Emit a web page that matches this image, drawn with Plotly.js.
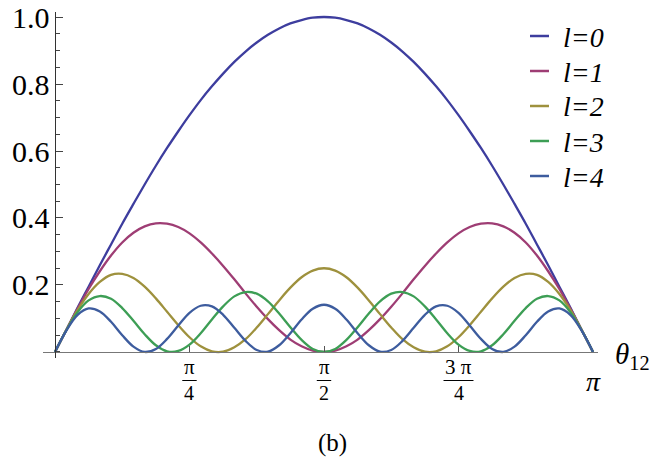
<!DOCTYPE html>
<html>
<head>
<meta charset="utf-8">
<script src="https://cdn.plot.ly/plotly-3.0.1.min.js"></script>
<style>html,body{margin:0;padding:0;background:#fff;}#chart{width:656px;height:461px;}</style>
</head>
<body>
<div id="chart"></div>
<script>
// angle theta_12 in degrees
const thetaDeg = [0, 3.75, 7.5, 11.25, 15, 18.75, 22.5, 26.25, 30, 33.75, 37.5, 41.25, 45, 48.75, 52.5, 56.25, 60, 63.75, 67.5, 71.25, 75, 78.75, 82.5, 86.25, 90,
  93.75, 97.5, 101.25, 105, 108.75, 112.5, 116.25, 120, 123.75, 127.5, 131.25, 135, 138.75, 142.5, 146.25, 150, 153.75, 157.5, 161.25, 165, 168.75, 172.5, 176.25, 180];

const seriesNames = ["l=0", "l=1", "l=2", "l=3", "l=4"];
const seriesColors = ["#3d3d9e", "#9e3d74", "#9e913d", "#3d9e55", "#3d5c9e"];

const l0 = [0, 0.065, 0.131, 0.195, 0.259, 0.321, 0.383, 0.442, 0.5, 0.556, 0.609, 0.659, 0.707, 0.752, 0.793, 0.831, 0.866, 0.897, 0.924, 0.947, 0.966, 0.981, 0.991, 0.998, 1,
  0.998, 0.991, 0.981, 0.966, 0.947, 0.924, 0.897, 0.866, 0.831, 0.793, 0.752, 0.707, 0.659, 0.609, 0.556, 0.5, 0.442, 0.383, 0.321, 0.259, 0.195, 0.131, 0.065, 0];
const l1 = [0, 0.065, 0.128, 0.188, 0.241, 0.288, 0.327, 0.356, 0.375, 0.384, 0.383, 0.373, 0.354, 0.327, 0.294, 0.257, 0.217, 0.175, 0.135, 0.098, 0.065, 0.037, 0.017, 0.004, 0,
  0.004, 0.017, 0.037, 0.065, 0.098, 0.135, 0.175, 0.217, 0.257, 0.294, 0.327, 0.354, 0.373, 0.383, 0.384, 0.375, 0.356, 0.327, 0.288, 0.241, 0.188, 0.128, 0.065, 0];
const l2 = [0, 0.065, 0.124, 0.173, 0.209, 0.230, 0.233, 0.221, 0.195, 0.160, 0.120, 0.080, 0.044, 0.017, 0.002, 0.001, 0.014, 0.038, 0.073, 0.113, 0.154, 0.192, 0.223, 0.243, 0.25,
  0.243, 0.223, 0.192, 0.154, 0.113, 0.073, 0.038, 0.014, 0.001, 0.002, 0.017, 0.044, 0.080, 0.120, 0.160, 0.195, 0.221, 0.233, 0.230, 0.209, 0.173, 0.124, 0.065, 0];
const l3 = [0, 0.064, 0.118, 0.154, 0.167, 0.159, 0.131, 0.093, 0.053, 0.020, 0.002, 0.003, 0.022, 0.056, 0.097, 0.136, 0.166, 0.179, 0.174, 0.151, 0.115, 0.074, 0.036, 0.009, 0,
  0.009, 0.036, 0.074, 0.115, 0.151, 0.174, 0.179, 0.166, 0.136, 0.097, 0.056, 0.022, 0.003, 0.002, 0.020, 0.053, 0.093, 0.131, 0.159, 0.167, 0.154, 0.118, 0.064, 0];
const l4 = [0, 0.063, 0.110, 0.130, 0.121, 0.090, 0.050, 0.016, 0.000, 0.009, 0.039, 0.079, 0.117, 0.138, 0.136, 0.111, 0.072, 0.033, 0.006, 0.001, 0.020, 0.056, 0.097, 0.129, 0.141,
  0.129, 0.097, 0.056, 0.020, 0.001, 0.006, 0.033, 0.072, 0.111, 0.136, 0.138, 0.117, 0.079, 0.039, 0.009, 0.000, 0.016, 0.050, 0.090, 0.121, 0.130, 0.110, 0.063, 0];

const yTickVals = [0.2, 0.4, 0.6, 0.8, 1.0];
const yTickText = ["0.2", "0.4", "0.6", "0.8", "1.0"];
const xTickVals = [45, 90, 135];
const xTickNum = ["π", "π", "3 π"];
const xTickDen = ["4", "2", "4"];
const xEndVal = 180;
const xEndLabel = "π";

const allSeries = [l0, l1, l2, l3, l4];
const serif = "Liberation Serif";

const traces = allSeries.map((vals, i) => ({
  type: "scatter", mode: "lines", x: thetaDeg, y: vals, name: seriesNames[i],
  line: {color: seriesColors[i], width: 2.3, shape: "spline", smoothing: 1},
  hoverinfo: "skip", showlegend: false
}));

const xr = [-4.01, 181.67];
const yr = [-0.018, 1.015];
const plotTop = 12, plotBottom = 358, plotLeft = 43, plotRight = 598;
const px2fx = p => (p - plotLeft) / (plotRight - plotLeft);
const px2fy = p => (plotBottom - p) / (plotBottom - plotTop);
const xFrac = v => (v - xr[0]) / (xr[1] - xr[0]);

const annotations = [];
const shapes = [];

// y tick labels (serif)
yTickVals.forEach((v, i) => {
  annotations.push({x: px2fx(51), xref: "paper", y: v, yref: "y", text: yTickText[i], showarrow: false, borderpad: 0,
    xanchor: "right", yanchor: "middle", font: {family: serif, size: 30, color: "#000"}});
});

// x tick labels as stacked fractions
xTickVals.forEach((v, i) => {
  annotations.push({x: v, xref: "x", y: px2fy(380), yref: "paper", text: xTickNum[i], showarrow: false, borderpad: 0,
    xanchor: "center", yanchor: "bottom", font: {family: serif, size: 21, color: "#000"}});
  annotations.push({x: v, xref: "x", y: px2fy(381), yref: "paper", text: xTickDen[i], showarrow: false, borderpad: 0,
    xanchor: "center", yanchor: "top", font: {family: serif, size: 20, color: "#000"}});
  const half = xTickNum[i].length > 1 ? 0.027 : 0.013;
  shapes.push({type: "line", xref: "paper", yref: "paper", x0: xFrac(v) - half, x1: xFrac(v) + half,
    y0: px2fy(380.5), y1: px2fy(380.5), line: {color: "#000", width: 1}});
});
annotations.push({x: xEndVal, xref: "x", y: px2fy(381), yref: "paper", text: "<i>" + xEndLabel + "</i>", showarrow: false,
  xanchor: "center", yanchor: "middle", font: {family: serif, size: 28, color: "#000"}});
annotations.push({x: px2fx(613), xref: "paper", y: px2fy(356), yref: "paper", text: "<i>θ</i><sub>12</sub>", showarrow: false,
  xanchor: "left", yanchor: "middle", font: {family: serif, size: 29, color: "#000"}});
annotations.push({x: px2fx(332), xref: "paper", y: px2fy(443), yref: "paper", text: "(b)", showarrow: false,
  xanchor: "center", yanchor: "middle", font: {family: serif, size: 25, color: "#000"}});

// legend (line sample + italic label per series)
const legendRows = [36, 71, 106, 141, 176];
seriesNames.forEach((nm, i) => {
  shapes.push({type: "line", xref: "paper", yref: "paper", x0: px2fx(530), x1: px2fx(549),
    y0: px2fy(legendRows[i]), y1: px2fy(legendRows[i]), line: {color: seriesColors[i], width: 2.5}});
  annotations.push({x: px2fx(562), xref: "paper", y: px2fy(legendRows[i] + 1), yref: "paper", text: "<i>" + nm + "</i>",
    showarrow: false, borderpad: 0, xanchor: "left", yanchor: "middle", font: {family: serif, size: 28, color: "#000"}});
});

const layout = {
  width: 656, height: 461,
  font: {family: serif, color: "#000"},
  margin: {l: plotLeft, r: 656 - plotRight, t: plotTop, b: 461 - plotBottom, autoexpand: false},
  paper_bgcolor: "#fff", plot_bgcolor: "rgba(0,0,0,0)",
  showlegend: false,
  xaxis: {range: xr, anchor: "free", position: px2fy(352), showgrid: false, zeroline: false,
    showline: true, linecolor: "#777", linewidth: 1.2, ticks: "inside", ticklen: 6, tickcolor: "#555",
    tickmode: "array", tickvals: xTickVals, showticklabels: false, fixedrange: true},
  yaxis: {range: yr, anchor: "free", position: px2fx(55), showgrid: false, zeroline: false,
    showline: true, linecolor: "#333", linewidth: 1.2, ticks: "inside", ticklen: 7, tickcolor: "#444", tickwidth: 1,
    tickmode: "array", tickvals: yTickVals, showticklabels: false,
    minor: {dtick: 0.05, tick0: 0, ticks: "inside", ticklen: 4, tickcolor: "#444", tickwidth: 1},
    fixedrange: true},
  annotations: annotations,
  shapes: shapes
};

Plotly.newPlot("chart", traces, layout, {displayModeBar: false});
</script>
</body>
</html>
